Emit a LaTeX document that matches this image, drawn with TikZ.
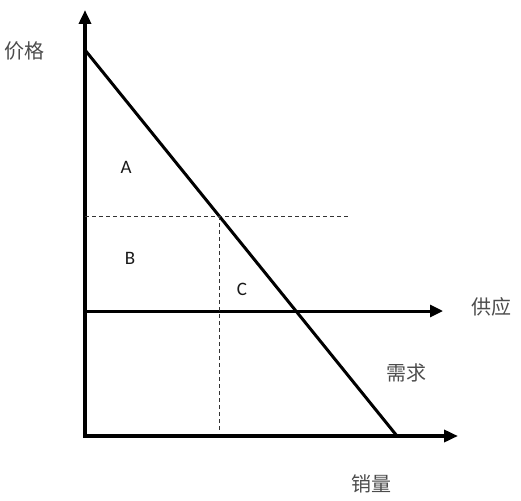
\documentclass[tikz,border=0pt]{standalone}
\usepackage{fontspec}
\setmainfont{Carlito}
\newfontfamily\cjk{Noto Sans CJK SC}
\usetikzlibrary{arrows.meta}
\begin{document}
\begin{tikzpicture}[x=1pt, y=-1pt,
  axisline/.style={line width=4pt, line join=miter, -{Triangle[length=14pt, width=12pt]}},
  supplyline/.style={line width=3pt, -{Triangle[length=13pt, width=12pt]}},
  demandline/.style={line width=3pt},
  guideline/.style={line width=0.8pt, dash pattern=on 4pt off 3pt, black!80},
  zhlabel/.style={font=\cjk\fontsize{20}{22}\selectfont, text=black!70, inner sep=0pt},
  arealabel/.style={font=\fontsize{19}{22}\selectfont, text=black!90, inner sep=0pt}]
\useasboundingbox (0,0) rectangle (521,500);
% axes
\coordinate (ytip) at (85,10);
\coordinate (origin) at (85,436);
\coordinate (xtip) at (458,436);
\draw[axisline, {Triangle[length=14pt, width=12pt]}-{Triangle[length=14pt, width=12pt]}] (ytip) -- (origin) -- (xtip);
% demand and supply
\coordinate (pmax) at (85,50);
\coordinate (qmax) at (397,436);
\draw[demandline] (pmax) -- (qmax);
\coordinate (sstart) at (87,311);
\coordinate (send) at (443,311);
\draw[supplyline] (sstart) -- (send);
% guides
\coordinate (gleft) at (85,216);
\coordinate (gpoint) at (219,216);
\coordinate (gright) at (350,216);
\coordinate (gfoot) at (219,430);
\draw[guideline] (gleft) -- (gright);
\draw[guideline] (gpoint) -- (gfoot);
% labels
\node[zhlabel] (price) at (25,51) {价格};
\node[zhlabel] (supply) at (491,307) {供应};
\node[zhlabel] (demand) at (406,373) {需求};
\node[zhlabel] (sales) at (371,484) {销量};
\node[arealabel] (areaA) at (126,167) {A};
\node[arealabel] (areaB) at (130,258) {B};
\node[arealabel] (areaC) at (242,289) {C};
\end{tikzpicture}
\end{document}
